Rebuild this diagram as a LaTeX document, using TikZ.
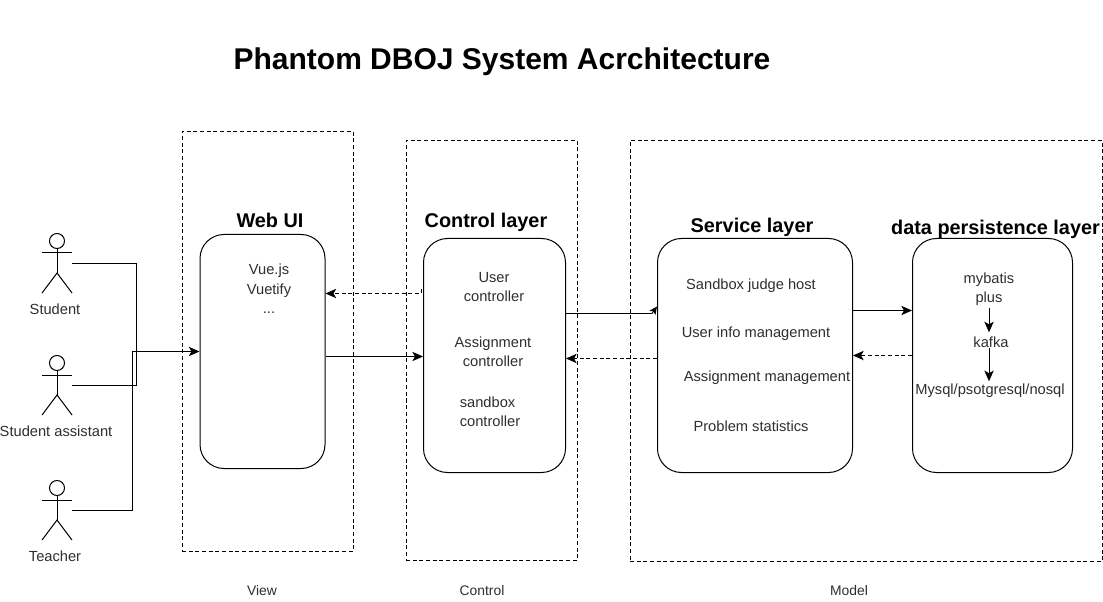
\documentclass[tikz,border=0pt]{standalone}
\usepackage{fontspec}
\setmainfont{Liberation Sans}
\usetikzlibrary{arrows.meta,calc}
\tikzset{
  layerbox/.style={draw=black,line width=0.75pt,rounded corners=18pt,inner sep=0pt,anchor=north west},
  framebox/.style={draw=black,line width=0.75pt,dash pattern=on 3pt off 2pt,inner sep=0pt,anchor=north west},
  lbl/.style={inner sep=0pt,text=black!82,font=\fontsize{11pt}{13.4pt}\selectfont,align=center},
  head/.style={inner sep=0pt,text=black,font=\fontsize{14.9pt}{16pt}\selectfont\bfseries,align=center},
  link/.style={line width=0.7pt,-{Stealth[length=8pt,width=7pt,inset=2pt]}},
  plain/.style={line width=0.7pt},
  dlink/.style={line width=0.75pt,dash pattern=on 3pt off 2pt,-{Stealth[length=8pt,width=7pt,inset=2pt]}},
  actor/.style={line width=0.75pt}
}
\newcommand{\stickman}[2]{%
  \draw[actor] (#1,#2) circle[radius=7.5];
  \draw[actor] (#1,#2+8) -- (#1,#2+32);
  \draw[actor] (#1-15,#2+12) -- (#1+15,#2+12);
  \draw[actor] (#1-15,#2+52) -- (#1,#2+32) -- (#1+15,#2+52);
}
\begin{document}
\begin{tikzpicture}[x=0.75pt,y=-0.75pt]
\useasboundingbox (0,0) rectangle (1103,602);
% frames
\node[framebox,minimum width=128.25pt,minimum height=315pt] (fview) at (181.5,131) {};
\node[framebox,minimum width=128.25pt,minimum height=315pt] (fctrl) at (405.5,140) {};
\node[framebox,minimum width=354pt,minimum height=315.75pt] (fmodel) at (629.5,140) {};
% boxes
\node[layerbox,minimum width=93.75pt,minimum height=175.5pt] (web) at (199.5,234) {};
\node[layerbox,minimum width=106.5pt,minimum height=175.5pt] (ctrl) at (423,238) {};
\node[layerbox,minimum width=146.25pt,minimum height=175.5pt] (serv) at (657,238) {};
\node[layerbox,minimum width=120pt,minimum height=175.5pt] (data) at (912,238) {};
% title and headings
\node[inner sep=0pt,font=\fontsize{22.5pt}{26pt}\selectfont\bfseries] (title) at (502,62) {Phantom DBOJ System Acrchitecture};
\node[head] (hweb) at (270,220) {Web UI};
\node[head] (hctrl) at (486,222) {Control layer};
\node[head] (hserv) at (752,227.5) {Service layer};
\node[head] (hdata) at (995.5,229.5) {data persistence layer};
% actors
\stickman{57}{241}
\stickman{57}{363}
\stickman{57}{488}
\coordinate (a1) at (72,263.5);
\coordinate (a2) at (72,385.5);
\coordinate (a3) at (72,510.5);
\coordinate (j1) at (136.5,263.5);
\coordinate (j2) at (136.5,385.5);
\coordinate (j3) at (132.5,510.5);
\coordinate (j4) at (132.5,351.5);
\node[lbl] (student) at (55,309) {Student};
\node[lbl] (assistant) at (56,431) {Student assistant};
\node[lbl] (teacher) at (55,556) {Teacher};
% web text
\node[lbl] (vue) at (269,289) {Vue.js\\[1.2pt]Vuetify\\[1.2pt]...};
% control text
\node[lbl] (uc) at (494,287) {User\\[1.2pt]controller};
\node[lbl] (ac) at (493,352) {Assignment\\[1.2pt]controller};
\node[lbl,align=left] (sc) at (490,412) {sandbox\\[1.2pt]controller};
% service text
\node[lbl] (s1) at (751,286) {Sandbox judge host};
\node[lbl] (s2) at (756,334) {User info management};
\node[lbl] (s3) at (767,378) {Assignment management};
\node[lbl] (s4) at (751,426) {Problem statistics};
% data text
\node[lbl] (d1) at (989,289) {mybatis\\[1.2pt]plus};
\node[lbl] (d2) at (991,342) {kafka};
\node[lbl] (d3) at (990,391) {Mysql/psotgresql/nosql};
% connectors
\draw[plain] (a1) -- (j1) -- (j2) -- (a2);
\draw[link] (a3) -- (j3) -- (j4) -- (web.west |- j4);
\draw[link] (web.east |- 0,356.5) -- (ctrl.west |- 0,356.5);
\draw[dlink] ($(ctrl.west |- 0,289)+(-2,0)$) -- ($(ctrl.west |- 0,293.5)+(-2,0)$) -- (web.east |- 0,293.5);
\draw[plain] (ctrl.east |- 0,313.5) -- ($(serv.west |- 0,313.5)+(-5,0)$);
\draw[line width=0.7pt,-{Stealth[length=6pt,width=5.5pt,inset=1.5pt]}] ($(serv.west |- 0,313.5)+(-5,0)$) -- (serv.west |- 0,306.5);
\draw[dlink] (serv.west |- 0,358.5) -- (ctrl.east |- 0,358.5);
\draw[link] (serv.east |- 0,310.5) -- (data.west |- 0,310.5);
\draw[dlink] (data.west |- 0,355.5) -- (serv.east |- 0,355.5);
\draw[link,shorten >=3pt] ($(d1.south)+(0,2)$) -- (d1.south |- d2.north);
\draw[link,shorten >=2pt] (d1.south |- d2.south) -- (d1.south |- d3.north);
% frame labels
\node[lbl,font=\fontsize{10.4pt}{12pt}\selectfont] (lv) at (262,591) {View};
\node[lbl,font=\fontsize{10.4pt}{12pt}\selectfont] (lc) at (482,591) {Control};
\node[lbl,font=\fontsize{10.4pt}{12pt}\selectfont] (lm) at (849,591) {Model};
\end{tikzpicture}
\end{document}
